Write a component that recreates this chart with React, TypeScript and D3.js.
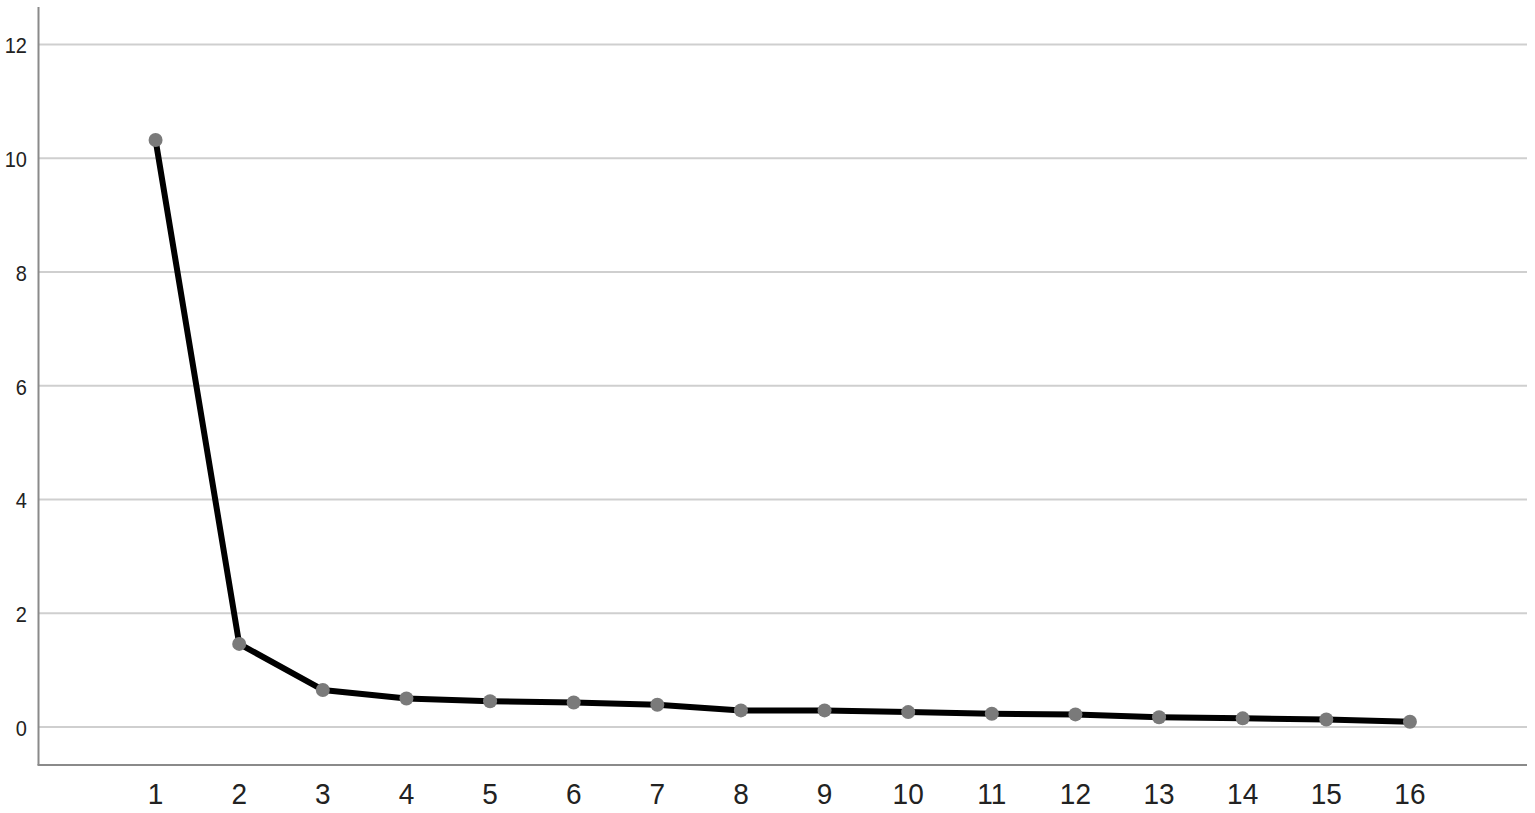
import React from "react";
import * as d3 from "d3";

const components = ["1","2","3","4","5","6","7","8","9","10","11","12","13","14","15","16"];
const eigenvalues = [10.32, 1.46, 0.65, 0.50, 0.45, 0.43, 0.39, 0.29, 0.29, 0.26, 0.23, 0.22, 0.17, 0.15, 0.13, 0.09];
const yTicks = [0, 2, 4, 6, 8, 10, 12];

const W = 1535;
const H = 813;
const left = 38.5;
const right = 1527;
const top = 7;
const bottom = 765;

export default function App() {
  const x = d3.scalePoint<string>().domain(components).range([left, right]).padding(1.4);
  const y = d3.scaleLinear().domain([-0.67, 12.66]).range([bottom, top]);
  const line = d3
    .line<number>()
    .x((_, i) => x(components[i]) as number)
    .y((d) => y(d));
  const ly = 794;

  return (
    <svg
      width={W}
      height={H}
      style={{ position: "absolute", left: 0, top: 0, background: "#fff" }}
      fontFamily="'Liberation Sans', Arial, sans-serif"
    >
      {yTicks.map((t) => (
        <g key={t}>
          <line x1={left} x2={right} y1={y(t)} y2={y(t)} stroke="#cfcfcf" strokeWidth={2} />
          <text
            x={27}
            y={y(t) + 1}
            textAnchor="end"
            dominantBaseline="central"
            fontSize={20}
            fill="#222"
            transform={`translate(0 ${y(t) + 1}) scale(1 1.12) translate(0 ${-(y(t) + 1)})`}
          >
            {t}
          </text>
        </g>
      ))}
      <line x1={left} x2={left} y1={top} y2={bottom} stroke="#8a8a8a" strokeWidth={2} />
      <line x1={left - 1} x2={right} y1={bottom} y2={bottom} stroke="#8a8a8a" strokeWidth={2} />
      {components.map((c) => (
        <text
          key={c}
          x={x(c)}
          y={ly}
          textAnchor="middle"
          dominantBaseline="central"
          fontSize={28}
          fill="#222"
          transform={`translate(0 ${ly}) scale(1 1.08) translate(0 ${-ly})`}
        >
          {c}
        </text>
      ))}
      <path d={line(eigenvalues) || ""} fill="none" stroke="#000" strokeWidth={6} strokeLinejoin="round" />
      {eigenvalues.map((v, i) => (
        <circle key={i} cx={x(components[i])} cy={y(v)} r={7} fill="#7a7a7a" />
      ))}
    </svg>
  );
}
